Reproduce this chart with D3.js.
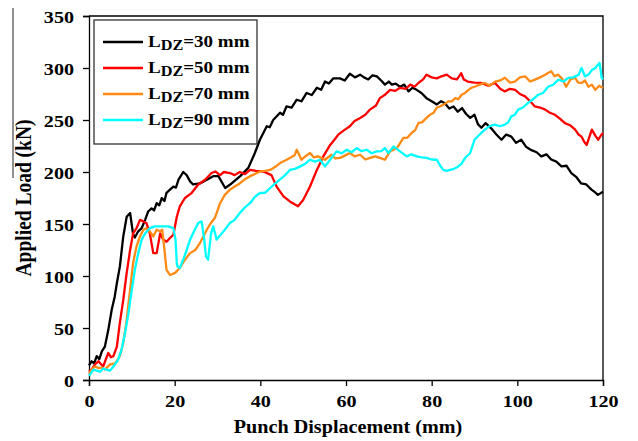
<!DOCTYPE html>
<html>
<head>
<meta charset="utf-8">
<script src="https://cdn.jsdelivr.net/npm/d3@7"></script>
<style>
  body { margin: 0; background: #fff; }
  text { font-family: "Liberation Serif", "Times New Roman", serif; font-weight: bold; }
</style>
</head>
<body>
<div id="chart"></div>
<script>
// punch displacement (mm) vs applied load (kN)
const xTicks = [0, 20, 40, 60, 80, 100, 120];
const yTicks = [0, 50, 100, 150, 200, 250, 300, 350];
const seriesNames = ["30", "50", "70", "90"];
const seriesColors = ["#000000", "#ff0000", "#ff8a14", "#00ffff"];

const ldz30 = [[0,14],[0.6,18],[1.2,16],[1.8,23],[2.4,20],[3.0,27.5],[3.7,32],[4.5,48],[5.3,67.6],[6.0,80],[6.5,93],[7.2,109],[8.0,138],[8.8,157],[9.6,160.6],[10.3,140],[10.7,137],[11.5,143],[12.3,146],[13.1,154],[13.8,162],[14.6,165],[15.2,163],[15.8,170],[16.4,168],[17.0,175],[17.6,172],[18.1,180],[18.9,183],[19.7,186],[20.3,185],[20.9,192.6],[22.0,200],[22.8,197],[23.6,191],[24.3,188],[25.9,189],[27.5,192.6],[29.0,196],[30.2,196],[31.8,184.6],[33.3,189],[35.3,196],[37.2,204],[38.7,218],[39.9,231],[41.5,244],[42.2,243],[43.0,250],[44.6,257],[45.3,255],[46.1,263],[47.3,262],[48.5,269.5],[49.6,268],[50.8,276],[52.0,274],[53.2,281],[54.2,279],[55.1,287],[56.0,285],[57.0,290],[58.6,290],[59.7,288],[60.9,294.5],[62.1,291],[63.3,293.6],[64.2,291],[65.2,289],[66.2,293],[67.2,292],[68.2,288],[69.1,284],[70.0,287],[70.7,284],[71.6,285],[72.6,282],[73.6,284],[74.6,277.5],[75.5,281],[76.5,279],[77.6,276],[78.8,271],[80.0,268],[81.2,265],[82.2,268],[83.1,266],[84.1,261],[85.1,263],[86.1,258],[87.1,261.5],[88.0,256],[89.0,252],[90.0,255],[90.8,246],[91.6,242.6],[92.6,247],[93.9,242],[95.1,236],[96.3,231],[97.4,236],[98.6,234],[99.7,228],[100.9,231],[102.1,224],[103.3,221],[104.5,219],[105.6,215],[106.8,217],[107.9,212],[109.1,210],[110.3,205.5],[111.5,206],[112.6,199],[113.8,195],[114.9,189],[116.1,188],[117.3,183],[118.0,181],[118.8,178],[120,181]];

const ldz50 = [[0,8],[0.6,10],[1.4,15],[2.2,18],[3.3,13],[4.5,26],[5.1,22],[5.7,23],[6.5,32],[7.2,55],[8.0,77],[8.8,103],[9.6,125],[10.3,141],[11.1,146],[11.9,154],[12.7,152.5],[13.4,151],[14.2,141],[15.0,122],[15.8,122],[16.6,141],[17.3,135],[18.1,133],[18.9,136.5],[19.7,139.7],[20.5,157],[21.2,167],[22.4,175],[24.0,180],[25.5,188],[27.1,192.6],[28.6,199],[29.5,200.5],[30.6,197],[31.5,200],[32.9,199],[34.0,197],[35.2,200],[36.4,198],[37.6,202],[39.0,201],[40.7,200.5],[42.6,197],[43.8,186],[45.4,176.5],[46.9,171.7],[48.0,169],[48.8,167],[50.0,173],[51.6,186],[53.2,202],[54.7,215],[56.3,226],[57.3,231],[58.2,236],[59.5,240],[60.9,244],[62.0,249],[63.3,252],[64.5,255],[65.6,260],[67.0,264],[67.9,271],[69.0,274],[70.3,279],[71.5,278],[72.6,281],[74.0,280],[75.0,284],[76.0,282],[76.9,285.6],[78.0,289],[78.8,293.6],[80.0,291],[81.2,290],[82.3,292],[83.5,293.6],[84.7,290],[85.9,289],[86.9,295],[87.5,289],[88.4,287],[90.0,286],[91.6,285.6],[93.2,283],[94.8,285.6],[96.0,280],[97.1,277.5],[98.3,280],[99.5,279],[100.6,275],[101.8,272.7],[103.0,268],[104.1,263],[105.3,262],[106.5,260],[107.6,257],[108.8,255],[110.0,251],[111.1,247],[112.3,245],[113.5,240.7],[114.3,236],[115.0,234],[115.6,229],[116.2,226],[117.0,236],[117.4,240.7],[118.2,235],[118.9,231],[119.5,235],[120,237.5]];

const ldz70 = [[0,6],[0.6,10],[1.4,13],[2.2,11.5],[3.0,12],[3.7,10],[4.9,15],[6.1,16],[7.2,23],[8.0,35.6],[8.8,58],[9.6,87],[10.3,112.5],[11.1,128.5],[11.9,138],[12.7,144.5],[13.4,146],[14.2,143],[15.0,138],[15.8,144.5],[16.6,143],[17.1,144.5],[17.7,122],[18.1,106],[18.9,101],[20.1,103],[21.2,107.7],[22.4,115.7],[23.6,122],[24.8,125],[25.9,131.7],[26.7,138],[27.5,144.5],[28.3,150],[29.4,156],[30.6,170],[31.7,178],[32.9,183],[34.0,186],[35.2,189],[36.4,193],[37.6,196],[38.7,198],[39.9,200.5],[41.1,201],[42.3,202],[43.5,205],[44.6,208.6],[45.8,211],[46.9,213.5],[48.0,216],[48.5,221.4],[49.6,211.8],[50.5,215],[51.6,218.3],[52.5,214],[53.5,215],[55.1,211.8],[56.6,216.6],[57.5,213],[58.6,213.5],[59.8,216],[60.9,218.3],[62.0,215],[63.3,216.6],[64.5,212],[65.6,213.5],[66.8,215],[67.9,213.5],[69.1,211.8],[70.3,219.8],[71.9,223],[73.4,232.7],[74.3,233],[75.3,237.5],[76.1,240],[76.9,247],[77.8,248],[78.8,252],[79.6,255],[80.4,256.7],[81.2,262],[81.9,263],[82.9,265],[83.9,267.9],[84.7,268],[85.5,271],[86.2,270],[87.0,274.3],[87.8,276],[88.6,279],[89.3,281],[90.0,282],[91.2,284],[92.4,285.6],[93.6,283],[94.8,287],[96.0,288],[97.1,290.6],[98.3,286],[99.4,287],[100.6,291],[101.8,292],[103.0,287],[104.1,288.8],[105.3,291],[106.5,293.6],[107.9,297],[108.7,292],[109.5,293.6],[110.4,290],[111.4,282],[112.4,289],[113.5,290.6],[114.2,286],[115.0,285.6],[115.8,288],[116.6,282],[117.4,284],[118.2,279],[119.1,283],[120,280.8]];

const ldz90 = [[0,4],[0.2,5],[1.0,10],[1.8,9],[2.6,8],[3.3,11],[4.1,10],[4.9,9],[5.7,13],[6.8,19.5],[7.6,29],[8.4,45],[9.2,64],[10.0,87],[10.7,106],[11.5,122],[12.3,135],[13.1,141],[14.2,146],[15.4,147.7],[17.0,147.7],[18.5,147.7],[19.7,146],[20.2,135],[20.5,112],[20.7,109],[21.2,107.7],[22.0,115.7],[22.8,125],[23.6,135],[24.3,141],[25.5,151],[26.3,152.5],[26.9,135],[27.3,119],[27.8,115.7],[28.5,141],[29.0,147.7],[29.8,135],[31.0,141],[32.0,146],[32.9,151],[34.0,154],[35.2,160.6],[36.4,166],[37.6,170],[38.7,176],[39.9,179.8],[41.1,180],[42.3,184.6],[43.5,189],[44.6,193],[45.8,197],[46.9,202],[48.1,203],[49.3,205.4],[50.5,208],[51.6,211.8],[52.8,210],[53.9,211.8],[55.1,205.4],[56.6,213.5],[57.8,219.8],[59.0,218],[60.2,221.4],[61.3,219],[62.5,223],[63.6,220],[64.8,221.4],[66.0,218],[67.2,219.8],[68.2,220],[69.1,223],[69.9,218.3],[71.1,224.6],[72.6,219.8],[74.2,215],[75.3,217],[76.5,215],[77.7,214],[78.8,213.5],[80.0,212],[81.2,211.8],[82.0,206],[82.7,202],[83.5,201],[84.3,202],[85.2,203],[86.2,205.4],[87.0,208],[87.8,213.5],[89.0,218.3],[90.0,231],[91.2,236],[92.4,240.7],[93.5,244],[94.7,245.5],[95.9,244],[97.1,245.5],[97.9,248],[98.6,253.5],[99.4,255],[100.2,260],[101.3,262],[102.5,266.5],[103.7,270],[104.9,274.3],[106.0,276],[107.2,282],[108.4,284],[109.6,288.8],[110.8,287],[111.9,290.6],[113.1,291],[114.3,293.6],[115.0,300],[115.8,292],[116.6,293.6],[117.4,298],[118.2,300],[119.2,305],[119.7,290.6],[120,289]];

const allSeries = [ldz30, ldz50, ldz70, ldz90];

const margin = {top: 16, right: 35, bottom: 61, left: 89},
      width = 638 - margin.left - margin.right,
      height = 441 - margin.top - margin.bottom;
const sx = 1.15; // the picture is a little stretched sideways

const root = d3.select("#chart").append("svg")
    .attr("width", 638)
    .attr("height", 441);

// stray border line on the left edge of the scan
root.append("line")
    .attr("x1", 13).attr("x2", 13)
    .attr("y1", 8).attr("y2", 178)
    .attr("stroke", "#222").attr("stroke-width", 1);

const svg = root.append("g")
    .attr("transform", "translate(" + margin.left + "," + margin.top + ")");

const x = d3.scaleLinear().domain([0, 120]).range([0, width]);
const y = d3.scaleLinear().domain([0, 350]).range([height, 0]);

// frame top + right
svg.append("path")
    .attr("d", `M0,0H${width}V${height}`)
    .attr("fill", "none")
    .attr("stroke", "#000")
    .attr("stroke-width", 1.3);

const xAxis = svg.append("g")
    .attr("transform", `translate(0, ${height})`)
    .call(d3.axisBottom(x).tickValues(xTicks).tickSizeOuter(0).tickSize(6));
xAxis.selectAll("text")
    .attr("y", 0).attr("dy", 0)
    .attr("transform", `translate(0,27) scale(${sx},1)`)
    .style("font-size", "17.5px");

const yAxis = svg.append("g")
    .call(d3.axisLeft(y).tickValues(yTicks).tickSizeOuter(0).tickSize(6));
yAxis.selectAll("text")
    .attr("x", 0).attr("dy", 0)
    .attr("transform", `translate(-15,6) scale(${sx},1)`)
    .style("font-size", "17.5px");

[xAxis, yAxis].forEach(a => {
    a.select(".domain").attr("stroke-width", 1.3);
    a.selectAll(".tick line").attr("stroke-width", 1.3);
    a.selectAll("text").style("fill", "#000").style("font-family", "Liberation Serif");
});

const line = d3.line()
    .x(d => x(d[0]))
    .y(d => y(d[1]));

allSeries.forEach((s, i) => {
    svg.append("path")
        .datum(s)
        .attr("fill", "none")
        .attr("stroke", seriesColors[i])
        .attr("stroke-width", 2.3)
        .attr("stroke-linejoin", "round")
        .attr("d", line);
});

// axis titles
root.append("text")
    .attr("text-anchor", "middle")
    .attr("transform", `translate(348,433) scale(1.12,1)`)
    .style("font-size", "18px")
    .text("Punch Displacement (mm)");

root.append("text")
    .attr("text-anchor", "middle")
    .attr("transform", `translate(31,198) rotate(-90) scale(1,${sx})`)
    .style("font-size", "19.5px")
    .text("Applied Load (kN)");

// legend
const legend = root.append("g").attr("transform", "translate(94,20)");
legend.append("rect")
    .attr("width", 163).attr("height", 124)
    .attr("fill", "#fff")
    .attr("stroke", "#333")
    .attr("stroke-width", 1.3);

seriesNames.forEach((n, i) => {
    const ly = 22 + i * 26;
    legend.append("line")
        .attr("x1", 9).attr("x2", 49)
        .attr("y1", ly).attr("y2", ly)
        .attr("stroke", seriesColors[i])
        .attr("stroke-width", 2.5);
    const t = legend.append("text")
        .attr("transform", `translate(54,${ly + 5}) scale(1.12,1)`)
        .style("font-size", "17px");
    t.append("tspan").text("L");
    t.append("tspan").attr("dy", 3).style("font-size", "14.5px").text("DZ");
    t.append("tspan").attr("dy", -3).text("=" + n + " mm");
});
</script>
</body>
</html>
